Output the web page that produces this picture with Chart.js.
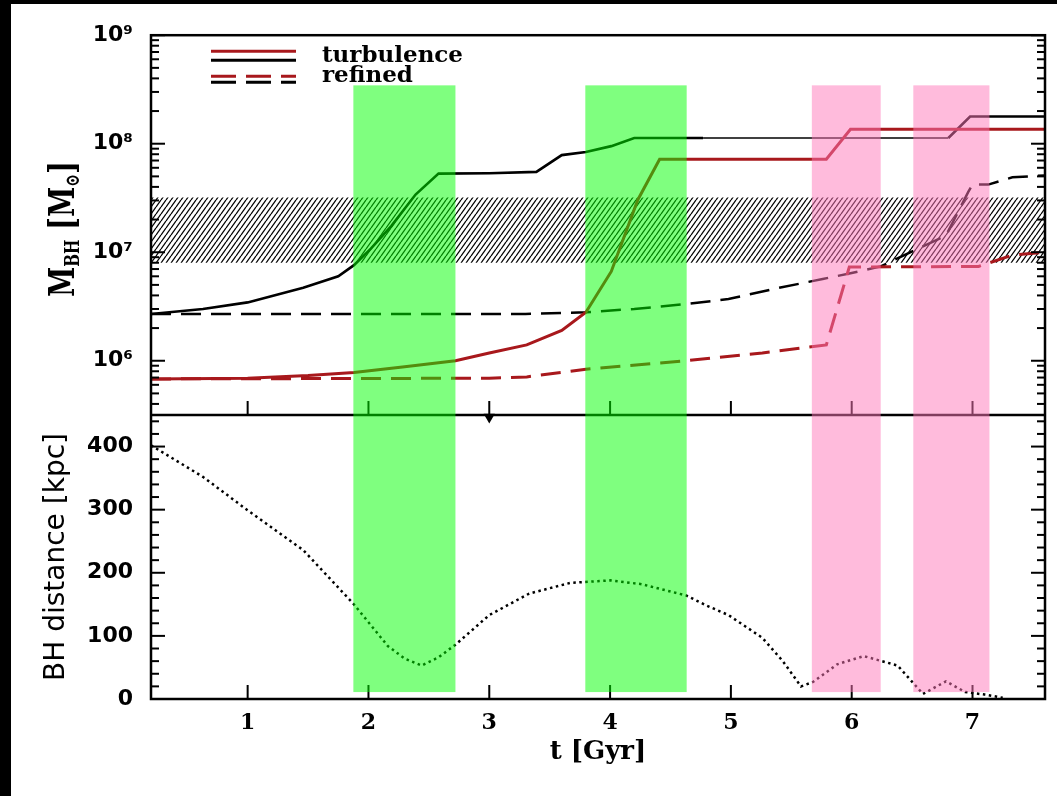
<!DOCTYPE html>
<html>
<head>
<meta charset="utf-8">
<title>BH mass growth and distance</title>
<script src="https://cdn.jsdelivr.net/npm/chart.js@4.4.1/dist/chart.umd.min.js"></script>
<style>
  html, body { margin: 0; padding: 0; background: #000; overflow: hidden; }
  #wrap { position: absolute; left: 11px; top: 4px; width: 1046px; height: 792px; background: #fff; }
</style>
</head>
<body>
<div id="wrap"><canvas id="chart" width="1046" height="792"></canvas></div>
<script>
// time axis [Gyr]
const tMin = 0.2
const tMax = 7.6
const timeTicks = [1, 2, 3, 4, 5, 6, 7]

// BH mass axis [Msun]
const massMin = 316228
const massMax = 1e9
const massTicks = [1e6, 1e7, 1e8, 1e9]
const massTickLabels = ['10⁶', '10⁷', '10⁸', '10⁹']

// distance axis [kpc]
const distMin = 0
const distMax = 450
const distTicks = [0, 100, 200, 300, 400]

// turbulence run, black solid
const turbBlackT = [0.2, 0.63, 1.0, 1.46, 1.75, 1.88, 2.02, 2.19, 2.39, 2.58, 3.0, 3.39, 3.6, 3.8, 4.01, 4.2, 4.77, 6.8, 6.98, 7.6]
const turbBlackM = [2.7e6, 3.0e6, 3.45e6, 4.7e6, 6.0e6, 7.6e6, 1.08e7, 1.75e7, 3.4e7, 5.3e7, 5.35e7, 5.5e7, 7.85e7, 8.4e7, 9.5e7, 1.13e8, 1.13e8, 1.13e8, 1.78e8, 1.78e8]

// turbulence run, red solid
const turbRedT = [0.2, 1.0, 1.5, 1.88, 2.3, 2.72, 3.0, 3.31, 3.6, 3.8, 4.01, 4.23, 4.41, 5.79, 5.99, 7.6]
const turbRedM = [6.8e5, 6.9e5, 7.3e5, 7.8e5, 8.8e5, 1.0e6, 1.18e6, 1.4e6, 1.9e6, 2.8e6, 6.65e6, 3.05e7, 7.2e7, 7.2e7, 1.36e8, 1.36e8]

// refined run, black dashed
const refBlackT = [0.2, 3.3, 3.8, 4.2, 4.63, 4.98, 5.4, 5.76, 5.99, 6.24, 6.52, 6.78, 6.965, 7.0, 7.13, 7.33, 7.6]
const refBlackM = [2.7e6, 2.7e6, 2.8e6, 3.0e6, 3.33e6, 3.7e6, 4.7e6, 5.67e6, 6.4e6, 7.4e6, 1.04e7, 1.42e7, 3.6e7, 4.2e7, 4.2e7, 4.9e7, 5.1e7]

// refined run, red dashed
const refRedT = [0.2, 3.0, 3.31, 3.8, 4.63, 5.26, 5.79, 5.98, 7.05, 7.33, 7.6]
const refRedM = [6.8e5, 6.9e5, 7.1e5, 8.35e5, 1.0e6, 1.18e6, 1.4e6, 7.3e6, 7.4e6, 9.4e6, 1.0e7]

// BH distance, dotted
const distT = [0.2, 0.63, 1.0, 1.46, 1.875, 2.16, 2.3, 2.44, 2.58, 2.72, 3.0, 3.33, 3.67, 4.0, 4.26, 4.63, 4.8, 4.98, 5.26, 5.43, 5.58, 5.68, 5.88, 6.1, 6.38, 6.59, 6.78, 6.94, 7.1, 7.25]
const distKpc = [402, 352, 299, 236, 151, 84, 64, 53, 66, 86, 133, 167, 184, 188, 182, 164, 148, 133, 97, 60, 20, 27, 55, 68, 53, 8, 28, 11, 7, 2]

// hatched mass range
const hatchTop = 3.2e7
const hatchBottom = 8.0e6

// highlighted time intervals [Gyr]
const greenBands = [[1.875, 2.72], [3.795, 4.634]]
const pinkBands = [[5.67, 6.24], [6.51, 7.14]]
const bandTopMass = 3.45e8
const bandBottomDist = 11

// small arrow at the panel boundary
const arrowT = [3.0]
const arrowD = [447]

const RED = '#a8181c'

function pts(xs, ys) {
    return xs.map((v, i) => ({ x: v, y: ys[i] }))
}

function makeHatch() {
    const c = document.createElement('canvas')
    c.width = 5
    c.height = 7
    const g = c.getContext('2d')
    g.strokeStyle = '#000'
    g.lineWidth = 1.3
    for (const x0 of [-5, 0, 5]) {
        g.beginPath()
        g.moveTo(x0, 7)
        g.lineTo(x0 + 5, 0)
        g.stroke()
    }
    return g.createPattern(c, 'repeat')
}

// frame and inward tick marks
const framePlugin = {
    id: 'frame',
    afterDatasetsDraw(chart) {
        const { ctx, chartArea: a } = chart
        const { x, yMass, yDist } = chart.scales
        ctx.save()
        ctx.strokeStyle = '#000'
        ctx.lineWidth = 2.5
        ctx.strokeRect(a.left, a.top, a.right - a.left, a.bottom - a.top)
        ctx.beginPath()
        ctx.moveTo(a.left, yMass.bottom)
        ctx.lineTo(a.right, yMass.bottom)
        ctx.stroke()

        ctx.lineWidth = 2
        const line = (x0, y0, x1, y1) => {
            ctx.beginPath()
            ctx.moveTo(x0, y0)
            ctx.lineTo(x1, y1)
            ctx.stroke()
        }
        // log ticks, both sides
        for (let k = 5; k <= 9; k++) {
            for (let m = 1; m <= 9; m++) {
                const v = m * Math.pow(10, k)
                if (v < massMin || v > massMax) continue
                const py = yMass.getPixelForValue(v)
                const len = m === 1 ? 14 : 8
                line(a.left, py, a.left + len, py)
                line(a.right, py, a.right - len, py)
            }
        }
        // distance ticks, both sides
        for (let v = distMin; v < distMax; v += 20) {
            const py = yDist.getPixelForValue(v)
            const len = v % 100 === 0 ? 14 : 8
            line(a.left, py, a.left + len, py)
            line(a.right, py, a.right - len, py)
        }
        // time ticks on the bottom of each panel
        timeTicks.forEach(t => {
            const px = x.getPixelForValue(t)
            line(px, yMass.bottom, px, yMass.bottom - 14)
            line(px, yDist.bottom, px, yDist.bottom - 14)
        })
        ctx.restore()
    }
}

// y title of the mass panel, with subscripts
const massTitlePlugin = {
    id: 'massTitle',
    afterDraw(chart) {
        const { ctx, chartArea: a } = chart
        const yMass = chart.scales.yMass
        const big = 'bold 36px "DejaVu Serif"'
        const small = 'bold 20px "DejaVu Serif"'
        const parts = [
            { s: 'M', f: big, dy: 0 },
            { s: 'BH', f: small, dy: 5 },
            { s: ' [M', f: big, dy: 0 },
            { s: '⊙', f: small, dy: 5 },
            { s: ']', f: big, dy: 0 }
        ]
        ctx.save()
        let w = 0
        parts.forEach(p => {
            ctx.font = p.f
            p.w = ctx.measureText(p.s).width
            w += p.w
        })
        ctx.translate(a.left - 77, (yMass.top + yMass.bottom) / 2 + 4)
        ctx.rotate(-Math.PI / 2)
        ctx.scale(0.76, 1)
        ctx.fillStyle = '#000'
        ctx.textBaseline = 'alphabetic'
        let u = -w / 2
        parts.forEach(p => {
            ctx.font = p.f
            ctx.fillText(p.s, u, p.dy)
            u += p.w
        })
        ctx.restore()
    }
}

// legend with paired lines
const legendPlugin = {
    id: 'pairLegend',
    afterDraw(chart) {
        const { ctx, chartArea: a } = chart
        const x0 = a.left + 60
        const x1 = a.left + 145
        ctx.save()
        ctx.lineWidth = 3
        const pair = (y, color, dash) => {
            ctx.strokeStyle = color
            ctx.setLineDash(dash)
            ctx.beginPath()
            ctx.moveTo(x0, y)
            ctx.lineTo(x1, y)
            ctx.stroke()
        }
        pair(a.top + 16, RED, [])
        pair(a.top + 25, '#000', [])
        pair(a.top + 41, RED, [25, 10])
        pair(a.top + 47, '#000', [25, 10])
        ctx.setLineDash([])
        ctx.fillStyle = '#000'
        ctx.font = 'bold 23px "DejaVu Serif"'
        ctx.textBaseline = 'alphabetic'
        ctx.fillText('turbulence', a.left + 171, a.top + 27)
        ctx.fillText('refined', a.left + 171, a.top + 47)
        ctx.restore()
    }
}

// translucent time bands spanning both panels
const bandPlugin = {
    id: 'bands',
    afterDraw(chart) {
        const { ctx } = chart
        const { x, yMass, yDist } = chart.scales
        const top = yMass.getPixelForValue(bandTopMass)
        const bottom = yDist.getPixelForValue(bandBottomDist)
        ctx.save()
        const draw = (bands, color) => {
            ctx.fillStyle = color
            bands.forEach(([t0, t1]) => {
                const p0 = x.getPixelForValue(t0)
                const p1 = x.getPixelForValue(t1)
                ctx.fillRect(p0, top, p1 - p0, bottom - top)
            })
        }
        draw(greenBands, 'rgba(0, 255, 0, 0.5)')
        draw(pinkBands, 'rgba(255, 120, 185, 0.5)')
        ctx.restore()
    }
}

const hatch = makeHatch()
const tickFont = { family: 'DejaVu Sans', size: 22, weight: 'bold' }

new Chart(document.getElementById('chart'), {
    type: 'line',
    data: {
        datasets: [
            {
                data: pts([tMin, tMax], [hatchTop, hatchTop]),
                yAxisID: 'yMass', borderWidth: 0, borderColor: 'transparent',
                backgroundColor: hatch, fill: '+1', order: 10
            },
            {
                data: pts([tMin, tMax], [hatchBottom, hatchBottom]),
                yAxisID: 'yMass', borderWidth: 0, borderColor: 'transparent',
                fill: false, order: 10
            },
            {
                data: pts(refBlackT, refBlackM), yAxisID: 'yMass',
                borderColor: '#000', borderWidth: 2.5, borderDash: [20, 10], order: 4
            },
            {
                data: pts(refRedT, refRedM), yAxisID: 'yMass',
                borderColor: RED, borderWidth: 3, borderDash: [20, 10], order: 3
            },
            {
                data: pts(turbBlackT, turbBlackM), yAxisID: 'yMass',
                borderColor: '#000', borderWidth: 2.6, order: 2,
                segment: {
                    borderWidth: c => (c.p0.parsed.x >= 4.77 && c.p1.parsed.x <= 6.8) ? 1.6 : 2.6
                }
            },
            {
                data: pts(turbRedT, turbRedM), yAxisID: 'yMass',
                borderColor: RED, borderWidth: 3, order: 1
            },
            {
                data: pts(distT, distKpc), yAxisID: 'yDist',
                borderColor: '#000', borderWidth: 2.5, borderDash: [2.5, 3.5], order: 1
            },
            {
                data: pts(arrowT, arrowD), yAxisID: 'yDist', showLine: false,
                pointStyle: 'triangle', rotation: 180, pointRadius: 6.5,
                backgroundColor: '#000', borderColor: '#000', borderWidth: 0, clip: false, order: 0
            }
        ]
    },
    options: {
        responsive: false,
        animation: false,
        devicePixelRatio: 1,
        layout: { padding: { top: 16, right: 12, left: 0, bottom: 0 } },
        plugins: { legend: { display: false }, tooltip: { enabled: false } },
        elements: { point: { radius: 0 }, line: { tension: 0, fill: false, borderCapStyle: 'butt' } },
        scales: {
            x: {
                type: 'linear', min: tMin, max: tMax,
                grid: { display: false, drawTicks: false },
                border: { display: false },
                afterBuildTicks: s => { s.ticks = timeTicks.map(v => ({ value: v })) },
                afterFit: s => { s.height = 97 },
                ticks: { color: '#000', padding: 11, font: { family: 'DejaVu Serif', size: 22, weight: 'bold' }, callback: v => String(v) },
                title: {
                    display: true, text: 't [Gyr]', color: '#000',
                    font: { family: 'DejaVu Serif', size: 26, weight: 'bold' },
                    padding: { top: 0, bottom: 28 }
                }
            },
            // left stack is laid out in reverse, so the lower panel comes first
            yDist: {
                type: 'linear', position: 'left', stack: 'panels', stackWeight: 290.5,
                min: distMin, max: distMax,
                grid: { display: false, drawTicks: false },
                border: { display: false },
                afterBuildTicks: s => { s.ticks = distTicks.map(v => ({ value: v })) },
                afterFit: s => { s.width = 140 },
                ticks: { color: '#000', padding: 18, font: tickFont, callback: v => String(v) },
                title: {
                    display: true, text: 'BH distance [kpc]', color: '#000',
                    font: { family: 'DejaVu Sans', size: 28 },
                    padding: { top: 29, bottom: 0 }
                }
            },
            yMass: {
                type: 'logarithmic', position: 'left', stack: 'panels', stackWeight: 388.5,
                min: massMin, max: massMax,
                grid: { display: false, drawTicks: false },
                border: { display: false },
                afterBuildTicks: s => { s.ticks = massTicks.map(v => ({ value: v })) },
                afterFit: s => { s.width = 140 },
                ticks: {
                    color: '#000', padding: 18, font: tickFont,
                    callback: v => massTickLabels[massTicks.indexOf(v)] || ''
                }
            }
        }
    },
    plugins: [framePlugin, massTitlePlugin, legendPlugin, bandPlugin]
})
</script>
</body>
</html>
